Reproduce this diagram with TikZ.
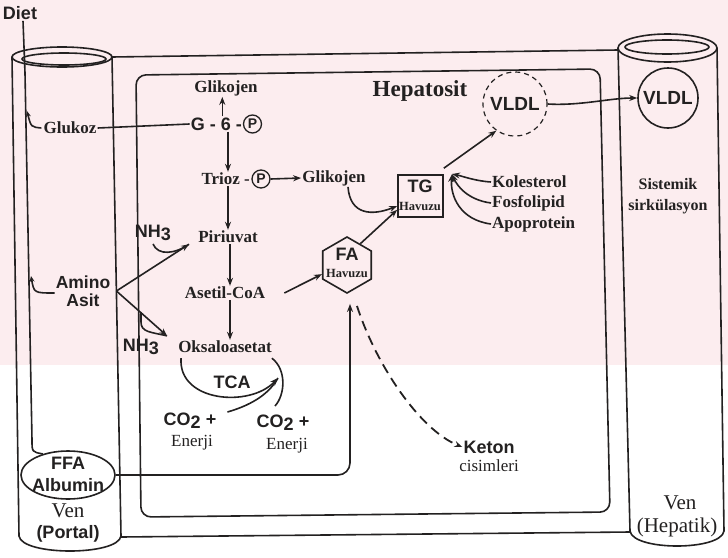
\documentclass[tikz,border=0pt]{standalone}
\usepackage{fontspec}
\setmainfont{Liberation Serif}
\setsansfont{Liberation Sans}
\usetikzlibrary{shapes.geometric,arrows.meta,calc}
\definecolor{ink}{RGB}{35,33,33}
\definecolor{wm}{RGB}{252,237,239}
\tikzset{
 ln/.style={draw=ink, line width=1.6pt},
 arr/.style={ln, -{Stealth[length=8pt,width=6pt]}},
 sarr/.style={ln, -{Stealth[length=6pt,width=5pt]}},
 darr/.style={arr, line width=1.8pt, dash pattern=on 10pt off 6pt},
 rb/.style={text=ink, inner sep=1pt, font=\fontsize{17}{19}\selectfont\bfseries},
 rbs/.style={text=ink, inner sep=1pt, font=\fontsize{16}{21}\selectfont\bfseries, align=center},
 rr/.style={text=ink, inner sep=1pt, font=\fontsize{17}{19}\selectfont},
 rbig/.style={text=ink, inner sep=0.5pt, font=\fontsize{21}{22}\selectfont},
 sb/.style={text=ink, inner sep=1pt, font=\fontsize{18}{20}\selectfont\sffamily\bfseries},
 tinyb/.style={text=ink, inner sep=0pt, font=\fontsize{12.5}{13}\selectfont\bfseries},
 pc/.style={circle, ln, line width=1.3pt, inner sep=0pt, minimum size=18pt, text=ink, font=\fontsize{14}{15}\selectfont\sffamily\bfseries},
 hexa/.style={regular polygon, regular polygon sides=6, shape border rotate=30, minimum size=56pt, inner sep=0pt, ln},
}
\begin{document}
\begin{tikzpicture}[x=1pt,y=-1pt]
\useasboundingbox (0,0) rectangle (728,557);
\fill[white] (0,0) rectangle (728,557);
\fill[wm] (0,0) rectangle (728,365);

% tubes and frames
\draw[ln] (12,57) -- (19,536) .. controls (22,556) and (118,556) .. (121,536) -- (112,57);
\draw[ln] (62,57) ellipse [x radius=50, y radius=10];
\draw[ln] (64,59) ellipse [x radius=42, y radius=6];
\draw[ln] (618,48) -- (630,531) .. controls (633,551) and (721,551) .. (724,531) -- (717,48);
\draw[ln] (667.5,48) ellipse [x radius=49.5, y radius=14];
\draw[ln] (667,47) ellipse [x radius=42, y radius=7];
\draw[ln] (112,57) -- (618,50);
\draw[ln] (121,537) -- (630,532);
\draw[ln, rounded corners=10pt] (136,75) -- (141,517) -- (610,512) -- (600,69) -- cycle;

% nodes
\node[sb] (diet) at (20,13) {Diet};
\node[rb] (glukoz) at (70,128) {Glukoz};
\node[sb, align=center, font=\fontsize{17.5}{18}\selectfont\sffamily\bfseries] (amino) at (83,291) {Amino\\Asit};
\node[ellipse, ln, minimum width=94pt, minimum height=48pt] (ffa) at (68,475) {};
\node[sb] (ffat) at (68,463) {FFA};
\node[sb] (alb) at (68,485) {Albumin};
\node[rbig] (ven1) at (68,511) {Ven};
\node[sb] (portal) at (68,534) {(Portal)};
\node[rbig] (ven2) at (680,503) {Ven};
\node[rbig] (hepatik) at (677,527) {(Hepatik)};
\node[rbs] (sist) at (668,196) {Sistemik\\sirkülasyon};
\node[circle, ln, minimum size=60pt, inner sep=0pt, sb, font=\fontsize{19}{20}\selectfont\sffamily\bfseries] (vldl2) at (668,98) {VLDL};
\node[circle, ln, line width=1.2pt, dash pattern=on 5pt off 4pt, minimum size=64pt, inner sep=0pt, sb, font=\fontsize{19}{20}\selectfont\sffamily\bfseries] (vldl1) at (515,104) {VLDL};
\node[text=ink, font=\fontsize{23}{24}\selectfont\bfseries] (hep) at (420,91) {Hepatosit};

\node[rb] (glik1) at (226,88) {Glikojen};
\node[sb, anchor=east] (g6p) at (243,124) {G - 6 -};
\node[pc] (p1) at (252.5,124) {P};
\node[rb, anchor=east] (trioz) at (251,179) {Trioz -};
\node[pc] (p2) at (261,179) {P};
\node[rb] (glik2) at (334,178) {Glikojen};
\node[rb] (piru) at (228,237) {Piriuvat};
\node[rb] (aset) at (225,293) {Asetil-CoA};
\node[rb] (oksa) at (225,347) {Oksaloasetat};
\node[sb] (tca) at (232,382) {TCA};
\node[sb] (co2a) at (190,421) {CO\raisebox{-3pt}{2} +};
\node[rr] (en1) at (192,443) {Enerji};
\node[sb] (co2b) at (283,423) {CO\raisebox{-3pt}{2} +};
\node[rr] (en2) at (287,446) {Enerji};
\node[sb] (nh3a) at (153,233) {NH\raisebox{-3pt}{3}};
\node[sb] (nh3b) at (141,347) {NH\raisebox{-3pt}{3}};

\node[ln, minimum width=45pt, minimum height=42pt, inner sep=0pt] (tg) at (420.5,196) {};
\node[sb] (tgt) at (420,186) {TG};
\node[tinyb] (tgh) at (420,206) {Havuzu};
\node[hexa] (fa) at (347,265) {};
\node[sb] (fat) at (347,254) {FA};
\node[tinyb] (fah) at (347,273) {Havuzu};

\node[rb, anchor=west] (kol) at (491,182) {Kolesterol};
\node[rb, anchor=west] (fos) at (491,203) {Fosfolipid};
\node[rb, anchor=west] (apo) at (491,224) {Apoprotein};
\coordinate (conv) at (452,174);

\node[sb] (keton) at (489,447) {Keton};
\node[rr] (cis) at (489,466) {cisimleri};
\coordinate (conv2) at (278,378);

% connectors: left tube
\draw[ln] ([xshift=3pt]diet.south) -- (25,73) -- (32,440) .. controls (32,452) .. (ffa.140);
\draw[sarr] ([xshift=-1pt]glukoz.west) .. controls (31,127) .. (27,111);
\draw[sarr] ([yshift=-2pt]amino.west) .. controls (34,293) .. (31,276);
\draw[ln] (glukoz.east) -- (g6p.west);
\draw[arr, rounded corners=12pt] (ffa.east) -- (350,475) -- ([xshift=3pt,yshift=-10pt]fa.south);
\draw[darr] ([xshift=10pt,yshift=-12pt]fa.south) .. controls (376,365) and (420,430) .. (keton.west);

% glycolysis column
\draw[arr] ([xshift=6pt]g6p.north) -- ([xshift=6pt]g6p.north |- glik1.south);
\draw[arr] (g6p.south -| piru.north) -- (trioz.north -| piru.north);
\draw[arr] (trioz.south -| piru.north) -- (piru.north);
\draw[arr] ([xshift=2pt]piru.south) -- ([xshift=2pt]piru.south |- aset.north);
\draw[arr] ([xshift=5pt]aset.south) -- ([xshift=5pt]aset.south |- oksa.north);
\draw[arr] (p2.east) -- (glik2.west);

% amino acids / NH3
\draw[ln] ([yshift=-2pt]nh3a.south) .. controls (158,256) and (175,254) .. ([xshift=-8pt]piru.south west);
\draw[arr] ([xshift=5pt]amino.east) -- ([xshift=-8pt]piru.south west);
\draw[arr] ([xshift=5pt]amino.east) -- ([xshift=-10pt,yshift=4pt]oksa.north west);
\draw[ln] ([yshift=26pt]nh3b.north) -- ([yshift=16pt]nh3b.north) .. controls ([yshift=6pt]nh3b.north) and (150,332) .. ([xshift=-10pt,yshift=4pt]oksa.north west);

% TCA
\draw[arr] ([xshift=4pt,yshift=-4pt]oksa.south west) .. controls (178,402) and (250,408) .. (conv2);
\draw[ln] ([xshift=-1pt,yshift=-4pt]oksa.south east) .. controls (287,370) and (285,395) .. ([xshift=-8pt,yshift=8pt]co2b.north);
\draw[ln] ([xshift=10pt]co2a.north east) .. controls (255,404) and (270,392) .. (conv2);

% lipids
\draw[arr] ([xshift=18pt]aset.east) -- (fa.200);
\draw[arr] (fa.58) -- ([yshift=8pt]tg.south west);
\draw[arr] ([xshift=14pt]glik2.south) .. controls (350,215) and (372,216) .. ([yshift=-10pt]tg.west);
\draw[arr] ([yshift=6pt]tg.north east) -- (vldl1.235);
\draw[arr] (kol.west) .. controls (475,181) and (462,176) .. (conv);
\draw[arr] (fos.west) .. controls (468,200) and (457,186) .. (conv);
\draw[arr] (apo.west) .. controls (460,220) and (450,196) .. (conv);
\draw[arr] (vldl1.east) .. controls (580,106) and (610,98) .. (vldl2.west);
\end{tikzpicture}
\end{document}
